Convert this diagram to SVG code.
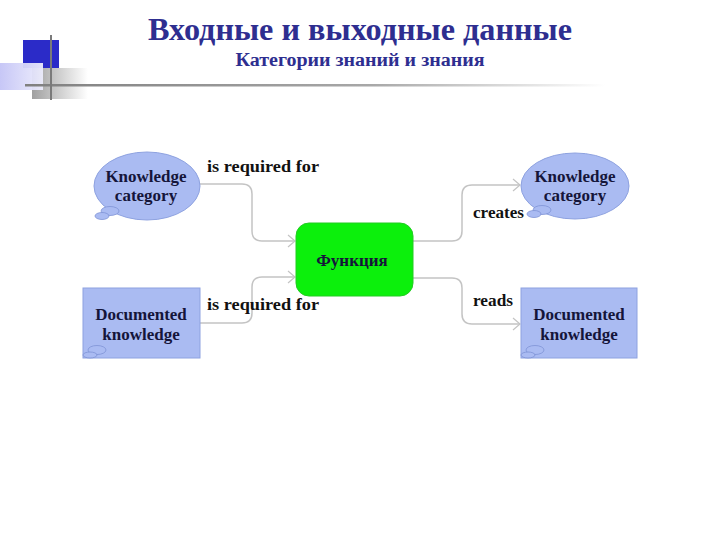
<svg xmlns="http://www.w3.org/2000/svg" width="720" height="540" viewBox="0 0 720 540">
<style>
.t{font-family:"Liberation Serif","Times New Roman",serif;font-weight:bold;fill:#15153a;font-size:17px}
.lbl{font-family:"Liberation Serif","Times New Roman",serif;font-weight:bold;fill:#111;font-size:17px}
.node{fill:#aabbf2;stroke:#8ea2e0;stroke-width:1}
.conn{fill:none;stroke:#c4c4c4;stroke-width:1.5}
.bub{fill:#aabbf2;stroke:#7f93d6;stroke-width:0.8}
</style>
<defs>
<marker id="arr" markerWidth="10" markerHeight="14" refX="8" refY="7" orient="auto" markerUnits="userSpaceOnUse">
<path d="M1,1 L8,7 L1,13" fill="none" stroke="#c4c4c4" stroke-width="1.2"/>
</marker>
<linearGradient id="lav" x1="0" y1="0" x2="1" y2="0">
<stop offset="0" stop-color="#c4c4f6"/>
<stop offset="1" stop-color="#ececfc"/>
</linearGradient>
<linearGradient id="gry" x1="0" y1="0" x2="1" y2="0">
<stop offset="0" stop-color="#a0a0a0"/>
<stop offset="1" stop-color="#ffffff"/>
</linearGradient>
<linearGradient id="hl" x1="0" y1="0" x2="1" y2="0">
<stop offset="0" stop-color="#808080"/>
<stop offset="0.6" stop-color="#a8a8a8"/>
<stop offset="1" stop-color="#ffffff"/>
</linearGradient>
</defs>
<rect width="720" height="540" fill="#ffffff"/>
<g id="decor">
<rect x="23" y="40" width="36" height="28" fill="#2b2bc8"/>
<rect x="32" y="68" width="56" height="31" fill="url(#gry)"/>
<rect x="0" y="63" width="43" height="27" fill="url(#lav)" opacity="0.95"/>
<rect x="25" y="84" width="580" height="2.5" fill="url(#hl)"/>
<rect x="50" y="35" width="2" height="65" fill="#7a7a7a"/>
</g>
<g id="title">
<text x="360" y="40" text-anchor="middle" font-family="Liberation Serif,serif" font-weight="bold" font-size="32" fill="#2e2e90" textLength="424" lengthAdjust="spacingAndGlyphs">Входные и выходные данные</text>
<text x="360" y="66" text-anchor="middle" font-family="Liberation Serif,serif" font-weight="bold" font-size="18" fill="#2e2e90" textLength="249" lengthAdjust="spacingAndGlyphs">Категории знаний и знания</text>
</g>
<g id="connectors">
<path class="conn" d="M200,184 H242 Q252,184 252,194 V231 Q252,241 262,241 H295" marker-end="url(#arr)"/>
<path class="conn" d="M200,323 H242 Q252,323 252,313 V287 Q252,277 262,277 H295" marker-end="url(#arr)"/>
<path class="conn" d="M413,241 H452 Q462,241 462,231 V195 Q462,185 472,185 H520" marker-end="url(#arr)"/>
<path class="conn" d="M413,278 H452 Q462,278 462,288 V314 Q462,324 472,324 H520" marker-end="url(#arr)"/>
<text class="lbl" x="207" y="172" textLength="112" lengthAdjust="spacingAndGlyphs">is required for</text>
<text class="lbl" x="207" y="310" textLength="112" lengthAdjust="spacingAndGlyphs">is required for</text>
<text class="lbl" x="473" y="218" textLength="51" lengthAdjust="spacingAndGlyphs">creates</text>
<text class="lbl" x="473" y="306" textLength="40" lengthAdjust="spacingAndGlyphs">reads</text>
</g>
<g id="kc-left">
<ellipse class="node" cx="147" cy="186" rx="53" ry="34"/>
<ellipse class="bub" cx="110" cy="211" rx="9" ry="4.5"/>
<ellipse class="bub" cx="102" cy="216" rx="7" ry="3.5"/>
<text class="t" x="146" y="182" text-anchor="middle">Knowledge</text>
<text class="t" x="146" y="201" text-anchor="middle">category</text>
</g>
<g id="dk-left">
<rect class="node" x="83" y="288" width="117" height="70"/>
<ellipse class="bub" cx="97" cy="350" rx="9" ry="4.5"/>
<ellipse class="bub" cx="90" cy="355" rx="7" ry="3"/>
<text class="t" x="141" y="320" text-anchor="middle">Documented</text>
<text class="t" x="141" y="340" text-anchor="middle">knowledge</text>
</g>
<g id="function">
<rect x="296" y="223" width="117" height="73" rx="13" fill="#0cf00c" stroke="#22cc22" stroke-width="1"/>
<text class="t" x="352" y="266" text-anchor="middle" font-size="15">Функция</text>
</g>
<g id="kc-right">
<ellipse class="node" cx="575" cy="186" rx="54" ry="33"/>
<ellipse class="bub" cx="542" cy="210" rx="9" ry="4.5"/>
<ellipse class="bub" cx="534" cy="214" rx="7" ry="3.5"/>
<text class="t" x="575" y="182" text-anchor="middle">Knowledge</text>
<text class="t" x="575" y="201" text-anchor="middle">category</text>
</g>
<g id="dk-right">
<rect class="node" x="521" y="288" width="116" height="70"/>
<ellipse class="bub" cx="535" cy="350" rx="9" ry="4.5"/>
<ellipse class="bub" cx="528" cy="355" rx="7" ry="3"/>
<text class="t" x="579" y="320" text-anchor="middle">Documented</text>
<text class="t" x="579" y="340" text-anchor="middle">knowledge</text>
</g>
</svg>
